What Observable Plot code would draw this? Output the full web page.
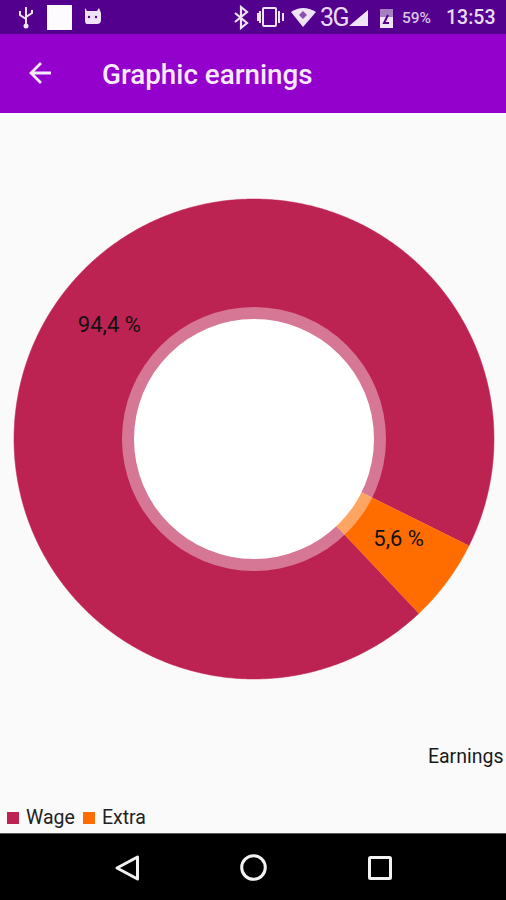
<!DOCTYPE html>
<html>
<head>
<meta charset="utf-8">
<script src="https://cdn.jsdelivr.net/npm/d3@7"></script>
<script src="https://cdn.jsdelivr.net/npm/@observablehq/plot@0.6"></script>
<style>
  html, body { margin: 0; padding: 0; background: #fafafa; }
  #page { position: relative; width: 506px; height: 900px; overflow: hidden; background: #fafafa; font-family: Roboto, sans-serif; }
  #status { position: absolute; left: 0; top: 0; width: 506px; height: 34px; background: #54008f; }
  #appbar { position: absolute; left: 0; top: 34px; width: 506px; height: 79px; background: #9400cc; }
  #title { position: absolute; left: 102px; top: 58px; font: 500 27.8px/34px Roboto, sans-serif; color: #f7eafc; white-space: nowrap; }
  #nav { position: absolute; left: 0; top: 833px; width: 506px; height: 67px; background: #000; }
  #chart { position: absolute; left: 0; top: 113px; }
  #legend { position: absolute; left: 7px; top: 806px; }
  #legend > * { margin: 0 !important; }
  #legend span { margin-right: 8px !important; }
  #legend svg { margin-right: 7px !important; }
  .abs { position: absolute; }
  .stat { position: absolute; color: #eadcf4; font-family: Roboto, sans-serif; white-space: nowrap; }
</style>
</head>
<body>
<div id="page">
  <div id="status"></div>
  <div id="appbar"></div>
  <svg class="abs" style="left:0;top:0" width="506" height="113" fill="none">
    <g stroke="#efe4f6" stroke-width="2">
      <path d="M26 7V25M20 11V15L26 19M32 10V13L26 17"/>
    </g>
    <circle cx="26" cy="26" r="2.5" fill="#efe4f6"/>
    <rect x="47" y="5" width="25" height="25" fill="#fdfbfe"/>
    <path d="M85 8L87 11H97L99 8L101 13V20Q101 24 97 24H87Q85 24 85 20Z" fill="#efe4f6"/>
    <circle cx="89" cy="17" r="1.2" fill="#54008f"/><circle cx="96" cy="17" r="1.2" fill="#54008f"/>
    <path d="M235 13L247 23L241 28V7L247 12L235 22" stroke="#efe4f6" stroke-width="2.2"/>
    <rect x="263" y="8" width="13" height="18" rx="1" stroke="#efe4f6" stroke-width="2"/>
    <path d="M258 13V21M260 11V23M279 11V23M283 13V21" stroke="#efe4f6" stroke-width="2"/>
    <path d="M291 12Q303 4 316 12L303 27Z" fill="#efe4f6"/>
    <path d="M303 11L307 15L303 19L299 15Z" fill="#8a50b0"/>
    <path d="M368 10V26H349Z" fill="#efe4f6"/>
    <rect x="380" y="9" width="13" height="19" fill="#a67fc0"/>
    <rect x="380" y="17" width="13" height="11" fill="#efe4f6"/>
    <path d="M388 15L384 23H389" stroke="#54008f" stroke-width="2"/>
    <path d="M31 73H51M41 63L31 73L41 83" stroke="#f7eafc" stroke-width="2.8"/>
  </svg>
  <div class="stat" style="left:320px;top:3px;font-size:25px;letter-spacing:-1.5px;line-height:30px">3G</div>
  <div class="stat" style="left:402px;top:8px;font-size:15.5px;font-weight:500;line-height:20px;color:#d9c5e6">59%</div>
  <div class="stat" style="left:446px;top:5px;font-size:19.5px;font-weight:500;line-height:26px">13:53</div>
  <div id="title">Graphic earnings</div>
  <div id="chart"></div>
  <div id="legend"></div>
  <div id="nav">
    <svg width="506" height="67" fill="none" stroke="#f2f2f2" stroke-width="3" stroke-linejoin="round">
      <path d="M0 0H506" stroke="#777" stroke-width="1.5"/>
      <path d="M137.5 24V46L117 35Z"/>
      <circle cx="253.5" cy="34.5" r="11.8"/>
      <rect x="369.5" y="24.5" width="21" height="21" rx="1"/>
    </svg>
  </div>
</div>
<script>
// Chart data
const labels = ["Wage", "Extra"];
const shares = [94.4, 5.6];
const percentTexts = ["94,4 %", "5,6 %"];
const colors = ["#bc2352", "#ff6d00"];
const chartName = "Earnings";

// Pie layout settings
const startAngle = 136.6 * Math.PI / 180;
const outerRadius = 240, labelRadius = 180, ringRadius = 132, holeRadius = 120;
const width = 506, height = 687;

const table = labels.map((label, i) => ({label, share: shares[i], text: percentTexts[i]}));
const arcs = d3.pie().sort(null).value(d => d.share)
  .startAngle(startAngle).endAngle(startAngle + 2 * Math.PI)(table);

// Outline of each wedge, in chart units around the pie's centre
const polar = (r, a) => ({x: r * Math.sin(a), y: -r * Math.cos(a)});
const outline = arcs.flatMap(arc => {
  const steps = Math.ceil((arc.endAngle - arc.startAngle) / (Math.PI / 360));
  const pts = [{...polar(0, 0), label: arc.data.label}];
  for (let k = 0; k <= steps; ++k) {
    const a = arc.startAngle + (arc.endAngle - arc.startAngle) * k / steps;
    pts.push({...polar(outerRadius, a), label: arc.data.label});
  }
  return pts;
});
const labelPoints = arcs.map(arc => ({
  ...polar(labelRadius, (arc.startAngle + arc.endAngle) / 2),
  text: arc.data.text
}));
const centre = [{x: 0, y: 0}];

const plot = Plot.plot({
  width, height,
  margin: 0,
  style: {background: "transparent", fontFamily: "Roboto, sans-serif"},
  x: {domain: [-253.5, 252.5], range: [0, width], axis: null},
  y: {domain: [-325.5, 361.5], range: [0, height], axis: null},
  color: {domain: labels, range: colors},
  marks: [
    Plot.line(outline, {x: "x", y: "y", z: "label", fill: "label", stroke: "label", strokeWidth: 0.5, strokeLinejoin: "round"}),
    Plot.dot(centre, {x: "x", y: "y", r: ringRadius, fill: "#fff", fillOpacity: 0.39, stroke: null}),
    Plot.dot(centre, {x: "x", y: "y", r: holeRadius, fill: "#fff", stroke: null}),
    Plot.text(labelPoints, {x: "x", y: "y", text: "text", dy: -7, fontSize: 22, fill: "#111"}),
    Plot.text([chartName], {frameAnchor: "bottom-right", dx: -3, dy: -44, fontSize: 19.5, fill: "#1a1a1a", lineAnchor: "middle"})
  ]
});
document.getElementById("chart").append(plot);

const legend = Plot.legend({
  color: {domain: labels, range: colors, type: "ordinal"},
  swatchSize: 12,
  style: {fontSize: "19.5px", fontFamily: "Roboto, sans-serif", color: "#222", minHeight: "24px", lineHeight: "24px"}
});
document.getElementById("legend").append(legend);
</script>
</body>
</html>
